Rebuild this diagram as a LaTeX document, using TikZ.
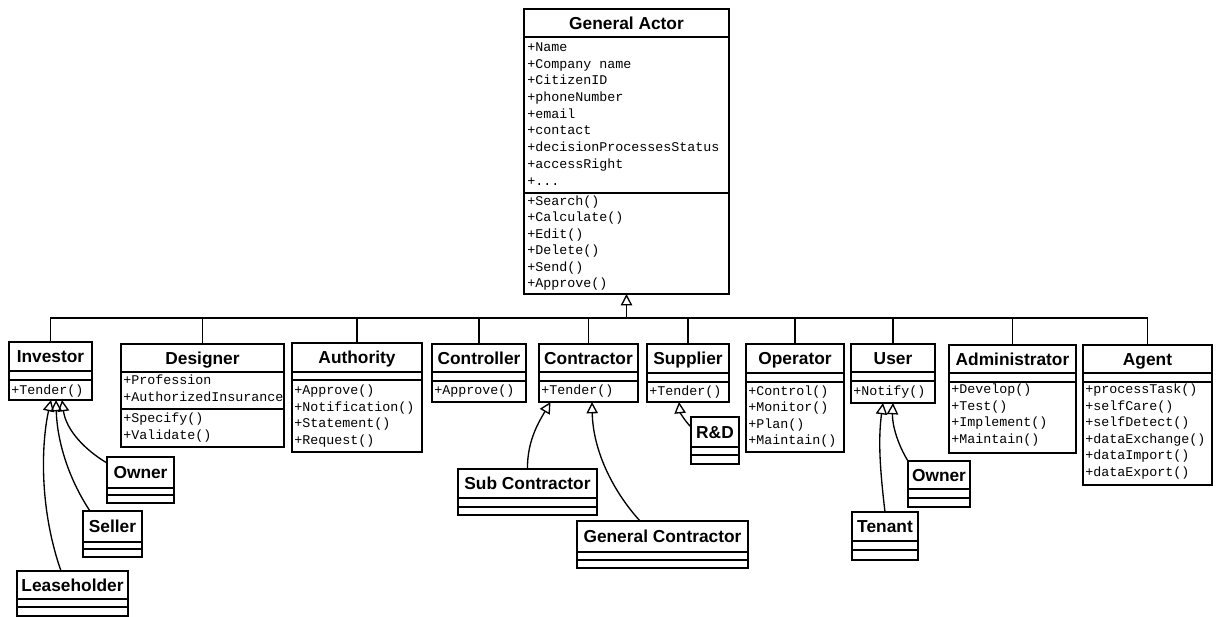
\documentclass[tikz,border=0pt]{standalone}
\usepackage{fontspec}
\setmainfont{Liberation Sans}
\newfontfamily\umlmono{Liberation Mono}
\usetikzlibrary{arrows.meta,calc}
\tikzset{
  clsbox/.style={draw, line width=1.2pt, inner sep=0pt, outer sep=0pt, fill=white},
  sepline/.style={line width=1pt},
  clstitle/.style={font=\bfseries\fontsize{13}{15}\selectfont, inner sep=0pt, text height=9.3pt, text depth=0pt, anchor=center},
  member/.style={font=\umlmono\fontsize{10}{12}\selectfont, inner sep=0pt, anchor=base west},
  conn/.style={line width=1.2pt},
  gen/.style={line width=1pt, -{Triangle[open, length=8.5pt, width=8.5pt]}},
}
% name, x1, y1, x2, y2, sep1, sep2, title
\newcommand{\umlcls}[8]{%
  \node[clsbox, anchor=north west, minimum width={(#4-#2)*0.75pt}, minimum height={(#5-#3)*0.75pt}] (#1) at (#2,#3) {};
  \draw[sepline] (#2,#6) -- (#4,#6);
  \draw[sepline] (#2,#7) -- (#4,#7);
  \node[clstitle] (#1-title) at ({(#2+#4)/2},{(#3+#6)/2}) {#8};
}
% prefix, x, first baseline, spacing, list
\newcommand{\umlmembers}[5]{%
  \foreach \mtext [count=\mi from 0] in {#5} {\node[member] (#1-\mi) at (#2,{#3+#4*\mi}) {\mtext};}
}
\begin{document}
\begin{tikzpicture}[x=0.75pt,y=-0.75pt]
\fill[white] (0,0) rectangle (1218,617);
\useasboundingbox (0,0) rectangle (1218,617);

% classes
\umlcls{ga}{524}{9}{729}{294}{37}{193}{General Actor}
\umlmembers{gaa}{527}{51.5}{16.7}{+Name,+Company name,+CitizenID,+phoneNumber,+email,+contact,+decisionProcessesStatus,+accessRight,+.{}.{}.}
\umlmembers{gam}{527}{205.5}{16.4}{+Search(),+Calculate(),+Edit(),+Delete(),+Send(),+Approve()}

\umlcls{inv}{9}{342}{92}{400}{371}{380}{Investor}
\umlmembers{invm}{11}{394}{16.7}{+Tender()}

\umlcls{des}{121}{344}{284}{447}{372}{409}{Designer}
\umlmembers{desa}{123}{384.5}{17}{+Profession,+AuthorizedInsurance}
\umlmembers{desm}{123}{422}{17}{+Specify(),+Validate()}

\umlcls{auth}{292}{343}{422}{452}{372}{380}{Authority}
\umlmembers{authm}{294}{394.5}{16.7}{+Approve(),+Notification(),+Statement(),+Request()}

\umlcls{ctrl}{432}{344}{526}{402}{372}{381}{Controller}
\umlmembers{ctrlm}{434}{394.5}{16.7}{+Approve()}

\umlcls{con}{539}{344}{638}{402}{372}{381}{Contractor}
\umlmembers{conm}{541}{394.5}{16.7}{+Tender()}

\umlcls{sup}{647}{344}{729}{402}{373}{382}{Supplier}
\umlmembers{supm}{649}{395.5}{16.7}{+Tender()}

\umlcls{rd}{691}{417}{739}{464}{447}{455}{R\&D}

\umlcls{op}{746}{344}{844}{452}{373}{382}{Operator}
\umlmembers{opm}{748}{395.5}{16.4}{+Control(),+Monitor(),+Plan(),+Maintain()}

\umlcls{usr}{851}{344}{935}{403}{372}{381}{User}
\umlmembers{usrm}{853}{395.5}{16.7}{+Notify()}

\umlcls{adm}{949}{345}{1076}{453}{373}{382}{Administrator}
\umlmembers{admm}{951}{393.5}{16.6}{+Develop(),+Test(),+Implement(),+Maintain()}

\umlcls{agt}{1083}{345}{1212}{485}{373}{382}{Agent}
\umlmembers{agtm}{1085}{393.5}{16.6}{+processTask(),+selfCare(),+selfDetect(),+dataExchange(),+dataImport(),+dataExport()}

\umlcls{own1}{107}{457}{174}{503}{488}{495}{Owner}
\umlcls{sel}{83}{511}{142}{557}{542}{549}{Seller}
\umlcls{lea}{17}{571}{128}{616}{599}{607}{Leaseholder}
\umlcls{subc}{458}{469}{597}{515}{498}{507}{Sub Contractor}
\umlcls{genc}{577}{521}{748}{568}{552}{560}{General Contractor}
\umlcls{own2}{908}{461}{970}{507}{489}{498}{Owner}
\umlcls{ten}{852}{512}{918}{560}{541}{550}{Tenant}

% inheritance bus
\coordinate (bus) at (0,318);
\draw[conn] (inv.north) -- (inv.north |- bus) -- (agt.north |- bus) -- (agt.north);
\foreach \c in {des,auth,ctrl,con,sup,op,usr,adm} {\draw[conn] (\c.north) -- (\c.north |- bus);}
\draw[gen] (ga.south |- bus) -- (ga.south);

% subclasses of Investor
\draw[gen] ($(lea.north)+(-11.5,0)$) .. controls (38,505) and (42,440) .. ($(inv.south)+(0.5,0)$);
\draw[gen] ($(sel.north west)+(7,0)$) .. controls (68,478) and (57,440) .. ($(inv.south)+(5.5,0)$);
\draw[gen] ($(own1.north west)+(0,6)$) .. controls (85,450) and (66,430) .. ($(inv.south)+(11.5,0)$);

% subclasses of Contractor
\draw[gen] (subc.north) .. controls (527,440) and (540,420) .. ($(con.south)+(-38,0)$);
\draw[gen] ($(genc.north)+(-22.5,0)$) .. controls (612,490) and (593,450) .. ($(con.south)+(3.5,0)$);

% subclass of Supplier
\draw[gen] ($(rd.north west)+(0,10)$) .. controls (684,420) and (680,412) .. ($(sup.south)+(-9,0)$);

% subclasses of User
\draw[gen] (ten.north) .. controls (880,470) and (878,440) .. ($(usr.south)+(-10,0)$);
\draw[gen] (own2.north west) .. controls (898,445) and (892,425) .. (usr.south);
\end{tikzpicture}
\end{document}
